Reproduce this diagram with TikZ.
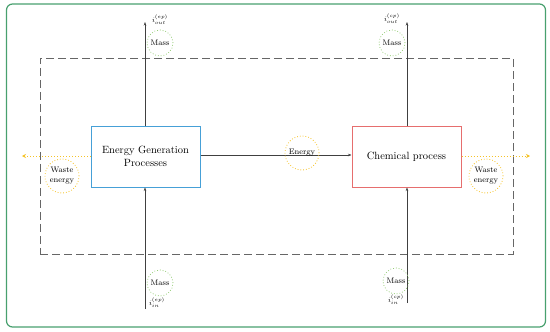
\documentclass[tikz,border=0pt]{standalone}
\usetikzlibrary{arrows.meta}
\definecolor{outergreen}{RGB}{72,160,110}
\definecolor{boxblue}{RGB}{70,160,215}
\definecolor{boxred}{RGB}{230,110,110}
\definecolor{wasteyellow}{RGB}{245,195,40}
\definecolor{massgreen}{RGB}{150,205,120}
\begin{document}
\begin{tikzpicture}[x=1pt,y=-1pt,
  procbox/.style={draw,line width=1pt,minimum width=109pt,minimum height=61pt,align=center,font=\fontsize{10.5}{13}\selectfont},
  masscirc/.style={circle,draw=massgreen,dotted,line width=0.8pt,minimum size=26pt,inner sep=0pt,font=\fontsize{8}{9}\selectfont},
  wastecirc/.style={circle,draw=wasteyellow,dotted,line width=0.8pt,minimum size=34pt,inner sep=0pt,align=center,font=\fontsize{8}{10}\selectfont},
  flow/.style={draw=black!75,line width=0.5pt,-{Stealth[length=3.5pt,width=2.5pt]}},
  wasteflow/.style={draw=wasteyellow,dotted,line width=1pt,-{Stealth[length=4pt,width=4pt]}},
  lbl/.style={font=\fontsize{7.5}{8}\selectfont,inner sep=0pt}]
\useasboundingbox (0,0) rectangle (550,332);
% outer frame
\node[draw=outergreen,line width=1.2pt,rounded corners=6pt,minimum width=539pt,minimum height=323pt,inner sep=0pt] (frame) at (276,165.5) {};
% dashed system boundary
\node[draw=black!60,dash pattern=on 8pt off 4pt,line width=0.6pt,minimum width=473pt,minimum height=196pt,inner sep=0pt] (sys) at (276.5,156) {};
% boxes
\node[procbox,draw=boxblue] (egp) at (145.5,156.5) {Energy Generation\\Processes};
\node[procbox,draw=boxred] (cp) at (406.5,156.5) {Chemical process};
% coordinates for free ends
\coordinate (egpout) at (145,22);
\coordinate (egpin) at (145,309);
\coordinate (cpout) at (407,22);
\coordinate (cpin) at (407,303);
\coordinate (wl) at (22,156);
\coordinate (wr) at (530,156);
% flows
\draw[flow] (egp.north -| egpout) -- (egpout);
\draw[flow] (egpin) -- (egp.south -| egpin);
\draw[flow] (cp.north -| cpout) -- (cpout);
\draw[flow] (cpin) -- (cp.south -| cpin);
\draw[flow] (egp.east |- 0,155) -- (cp.west |- 0,155);
\draw[wasteflow] (egp.west |- wl) -- (wl);
\draw[wasteflow] (cp.east |- wr) -- (wr);
% circles
\node[masscirc] (m1) at (160,43) {Mass};
\node[masscirc] (m2) at (392,43) {Mass};
\node[masscirc] (m3) at (160,283) {Mass};
\node[masscirc] (m4) at (396,281) {Mass};
\node[wastecirc] (e) at (302,153) {Energy};
\node[wastecirc] (w1) at (62,176) {Waste\\energy};
\node[wastecirc] (w2) at (486,176) {Waste\\energy};
% labels
\node[lbl] (l1) at (160,20) {$i_{out}^{(ep)}$};
\node[lbl] (l2) at (392,19) {$i_{out}^{(cp)}$};
\node[lbl] (l3) at (157,303) {$i_{in}^{(ep)}$};
\node[lbl] (l4) at (396,300) {$i_{in}^{(cp)}$};
\end{tikzpicture}
\end{document}
